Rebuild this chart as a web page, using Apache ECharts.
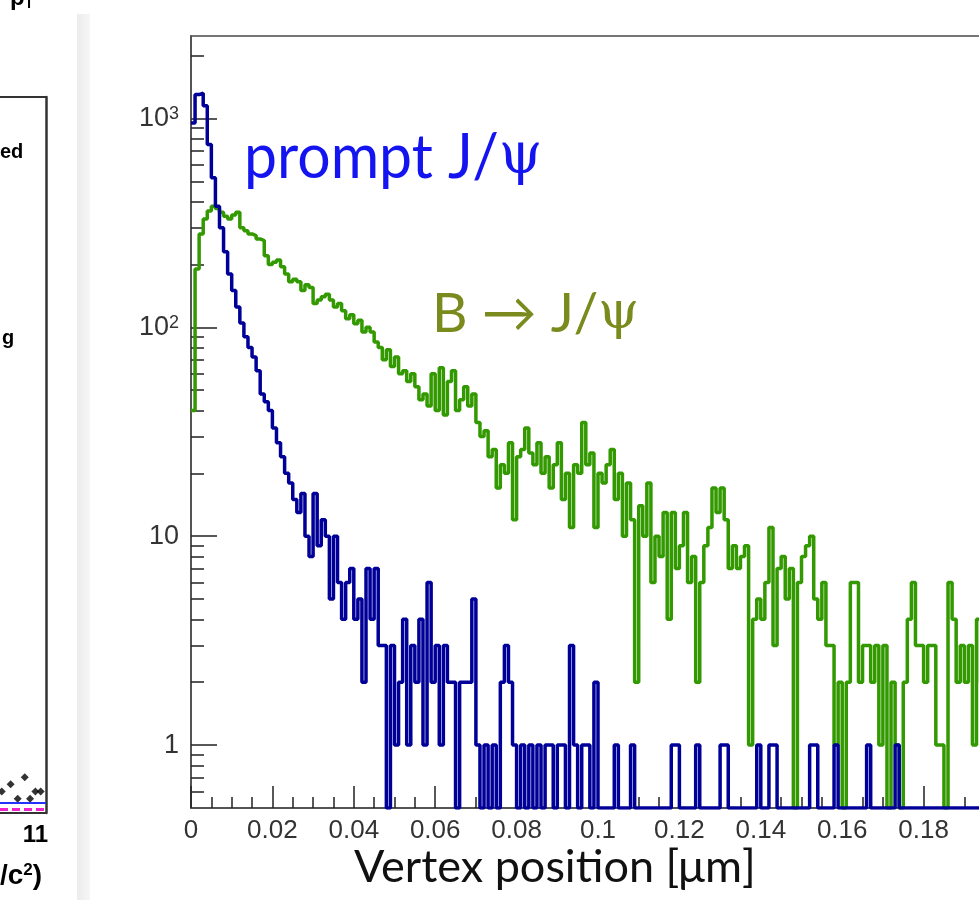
<!DOCTYPE html>
<html><head><meta charset="utf-8">
<script src="https://cdn.jsdelivr.net/npm/echarts@6/dist/echarts.min.js"></script>
<style>html,body{margin:0;padding:0;background:#fff}#c{width:979px;height:900px}</style>
</head><body><div id="c"></div>
<script>
// ---- data ----
const binWidth = 0.001;           // histogram bin width [µm]
const xMin = 0, xMax = 0.2, xStep = 0.02;
const yMin = 0.5, yMax = 2480;
const yMajorTicks = [1, 10, 100, 1000];
const yMinorTicks = [0.6,0.7,0.8,0.9,2,3,4,5,6,7,8,9,20,30,40,50,60,70,80,90,200,300,400,500,600,700,800,900,2000];

const promptJpsi = [
  950,1300,1320,1150,750,520,380,300,230,180,
  150,125,105,90,80,72,62,48,44,40,
  33,28,24,20,18,15,13,16,10,8,
  16,9,12,10,5,10,6,4,6,7,
  4,5,2,7,4,7,3,3,0,3,
  1,2,4,1,3,2,4,1,6,2,
  3,1,3,2,2,0,2,2,2,5,
  1,0,1,0,1,0,2,3,2,1,
  0,1,0,1,0,1,0,1,1,0,
  1,1,0,3,1,0,1,1,0,2,
  0,0,0,0,1,0,0,0,1,0,
  0,0,0,0,0,0,0,0,1,1,
  0,0,0,0,1,0,0,0,0,0,
  1,1,0,0,0,0,0,0,0,1,
  0,0,1,1,0,0,0,0,0,0,
  0,0,1,1,0,0,0,0,1,0,
  0,0,0,0,0,0,1,0,0,0,
  0,0,0,1,0,0,0,0,0,0,
  0,0,0,0,0,0,0,0,0,0,
  0,0,0,0,0,0,0,0,0,0
];
const bToJpsi = [
  40,190,280,330,360,380,370,355,340,330,
  345,355,300,290,280,275,265,260,220,200,
  205,210,195,180,165,170,165,150,160,155,
  130,135,140,144,135,125,130,120,110,115,
  104,108,95,100,95,85,80,70,78,65,
  72,60,62,55,60,52,45,48,42,60,
  40,64,38,55,62,40,45,52,42,48,
  35,30,32,24,26,17,22,20,28,12,
  24,26,33,25,22,28,20,24,17,22,
  28,15,20,11,22,20,35,22,25,11,
  20,18,22,26,15,20,10,18,12,2,
  14,10,18,6,10,8,13,4,13,7,
  9,13,6,8,2,6,9,11,17,13,
  17,12,7,9,7,8,9,1,4,5,
  4,6,11,3,7,8,5,7,0,6,
  8,9,10,5,4,6,3,3,1,2,
  0,2,6,6,2,3,3,2,3,1,
  3,0,2,1,0,2,4,6,3,3,
  2,3,3,1,1,0,6,4,2,3,
  2,3,1,4,2,1,3,0,2,1
];

// left (neighbouring) panel, partly cut off
const leftDotsX = [10.05, 10.3, 10.5, 10.7, 10.85, 11.0, 11.15];
const leftDotsY = [3, 4, 2, 5, 2, 3, 3];
const leftLineX = [10, 11.3];
const leftBlueY = [1.4, 1.4];
const leftMagentaY = [0.5, 0.5];

// ---- build ----
function stepData(values) {
  const d = values.map((v, i) => [+(i * binWidth).toFixed(4), Math.max(v, yMin)]);
  d.push([xMax, Math.max(values[values.length - 1], yMin)]);
  return d;
}
const chart = echarts.init(document.getElementById('c'), null, {renderer: 'canvas'});
const axisColor = '#4a4a4a';
const sans = '"Liberation Sans", Arial, sans-serif';
chart.setOption({
  animation: false,
  backgroundColor: '#ffffff',
  grid: [
    {left: 191, top: 36, width: 814, height: 772, show: true, borderColor: axisColor, borderWidth: 1.5,
      backgroundColor: 'transparent', containLabel: false, outerBoundsMode: 'none'},
    {left: 0, top: 97, width: 46, height: 716, show: false, containLabel: false, outerBoundsMode: 'none'}
  ],
  xAxis: [
    {
      gridIndex: 0, type: 'value', min: xMin, max: xMax, interval: xStep,
      axisLine: {show: true, lineStyle: {color: axisColor, width: 1.5}},
      axisTick: {show: true, inside: true, length: 22, lineStyle: {color: '#222', width: 1.5}},
      minorTick: {show: true, splitNumber: 4, length: 11, lineStyle: {color: '#222', width: 1.5}},
      axisLabel: {margin: 10, color: '#333', fontSize: 26, fontFamily: sans,
        formatter: v => (Math.abs(v - 0.2) < 1e-9 ? '' : String(+v.toFixed(2)))},
      splitLine: {show: false}
    },
    {
      gridIndex: 1, type: 'value', min: 10, max: 11.3, interval: 1, position: 'bottom',
      axisLine: {show: true, onZero: false, lineStyle: {color: '#333', width: 2}}, axisTick: {show: false}, splitLine: {show: false},
      axisLabel: {margin: 10, color: '#000', fontSize: 24, fontWeight: 'bold', fontFamily: sans,
        formatter: v => (v === 11 ? '11' : '')}
    },
    {
      gridIndex: 1, type: 'value', min: 10, max: 11.3, position: 'top',
      axisLine: {show: true, onZero: false, lineStyle: {color: '#333', width: 2}}, axisTick: {show: false},
      axisLabel: {show: false}, splitLine: {show: false}
    }
  ],
  yAxis: [
    {
      gridIndex: 0, type: 'log', logBase: 10, min: yMin, max: yMax,
      axisLine: {show: true, lineStyle: {color: axisColor, width: 1.5}},
      axisTick: {show: true, inside: true, length: 26, customValues: yMajorTicks, lineStyle: {color: '#222', width: 1.5}},
      axisLabel: {
        customValues: yMajorTicks, margin: 12, color: '#333', fontSize: 27, fontFamily: sans,
        formatter: v => {
          const e = Math.round(Math.log10(v));
          if (e === 0) return '1';
          if (e === 1) return '10';
          return '10{sup|' + e + '}';
        },
        rich: {sup: {fontSize: 18, verticalAlign: 'top', lineHeight: 18, color: '#333', fontFamily: sans, padding: [0, 0, 10, 0]}}
      },
      splitLine: {show: false}
    },
    {
      gridIndex: 0, type: 'log', logBase: 10, min: yMin, max: yMax, position: 'left',
      axisLine: {show: false},
      axisTick: {show: true, inside: true, length: 13, customValues: yMinorTicks, lineStyle: {color: '#222', width: 1.5}},
      axisLabel: {show: false}, splitLine: {show: false}
    },
    {
      gridIndex: 1, type: 'value', min: 0, max: 100, position: 'right',
      axisLine: {show: true, onZero: false, lineStyle: {color: '#333', width: 2.5}}, axisTick: {show: false},
      axisLabel: {show: false}, splitLine: {show: false}
    }
  ],
  series: [
    {
      name: 'B → J/ψ', type: 'line', xAxisIndex: 0, yAxisIndex: 0, step: 'end',
      data: stepData(bToJpsi), showSymbol: false, clip: true,
      lineStyle: {color: '#339900', width: 3.5}, z: 3
    },
    {
      name: 'prompt J/ψ', type: 'line', xAxisIndex: 0, yAxisIndex: 0, step: 'end',
      data: stepData(promptJpsi), showSymbol: false, clip: true,
      lineStyle: {color: '#000099', width: 3.5}, z: 4
    },
    {
      type: 'line', xAxisIndex: 1, yAxisIndex: 2, data: leftLineX.map((x, i) => [x, leftBlueY[i]]),
      showSymbol: false, lineStyle: {color: '#2233ff', width: 2}
    },
    {
      type: 'line', xAxisIndex: 1, yAxisIndex: 2, data: leftLineX.map((x, i) => [x, leftMagentaY[i]]),
      showSymbol: false, lineStyle: {color: '#ee22cc', width: 3, type: [8, 4]}
    },
    {
      type: 'scatter', xAxisIndex: 1, yAxisIndex: 2, data: leftDotsX.map((x, i) => [x, leftDotsY[i]]),
      symbol: 'diamond', symbolSize: 8, itemStyle: {color: '#000'}
    }
  ],
  graphic: [
    {type: 'rect', left: 77, top: 14, shape: {width: 13, height: 886}, z: -10, silent: true,
      style: {fill: new echarts.graphic.LinearGradient(0, 0, 1, 0, [{offset: 0, color: '#ececec'}, {offset: 1, color: '#f6f6f6'}])}},
    {type: 'text', x: 244, y: 127, scaleX: 0.95, z: 10, style: {
      text: 'prompt J/{psi|ψ}', fill: '#1414f0', font: '62px Lato, "Open Sans", sans-serif',
      rich: {psi: {fontFamily: 'DejaVu Serif', fontSize: 58, fill: '#1414f0'}}}},
    {type: 'text', x: 432, y: 287, z: 10, style: {
      text: 'B → J/{psi|ψ}', fill: '#7a8a1c', font: '55px Lato, "Open Sans", sans-serif',
      rich: {psi: {fontFamily: 'DejaVu Serif', fontSize: 52, fill: '#7a8a1c'}}}},
    {type: 'text', x: 354, y: 845, z: 10, style: {
      text: 'Vertex position [μm]', fill: '#111', font: '45px Lato, "Open Sans", sans-serif'}},
    {type: 'text', left: 0, top: 142, style: {text: 'ed', fill: '#000', font: 'bold 20px ' + sans}},
    {type: 'text', left: 2, top: 328, style: {text: 'g', fill: '#000', font: 'bold 20px ' + sans}},
    {type: 'text', left: 0, top: 862, style: {text: '/c{sup|2})', fill: '#000', font: 'bold 28px ' + sans,
      rich: {sup: {fontSize: 17, fontWeight: 'bold', verticalAlign: 'top', padding: [0, 0, 12, 0]}}}},
    {type: 'text', left: 10, top: -14, style: {text: 'p{sub|T}', fill: '#000', font: 'bold 24px ' + sans,
      rich: {sub: {fontSize: 14, fontWeight: 'bold', padding: [12, 0, 0, 0]}}}}
  ]
});
</script></body></html>
